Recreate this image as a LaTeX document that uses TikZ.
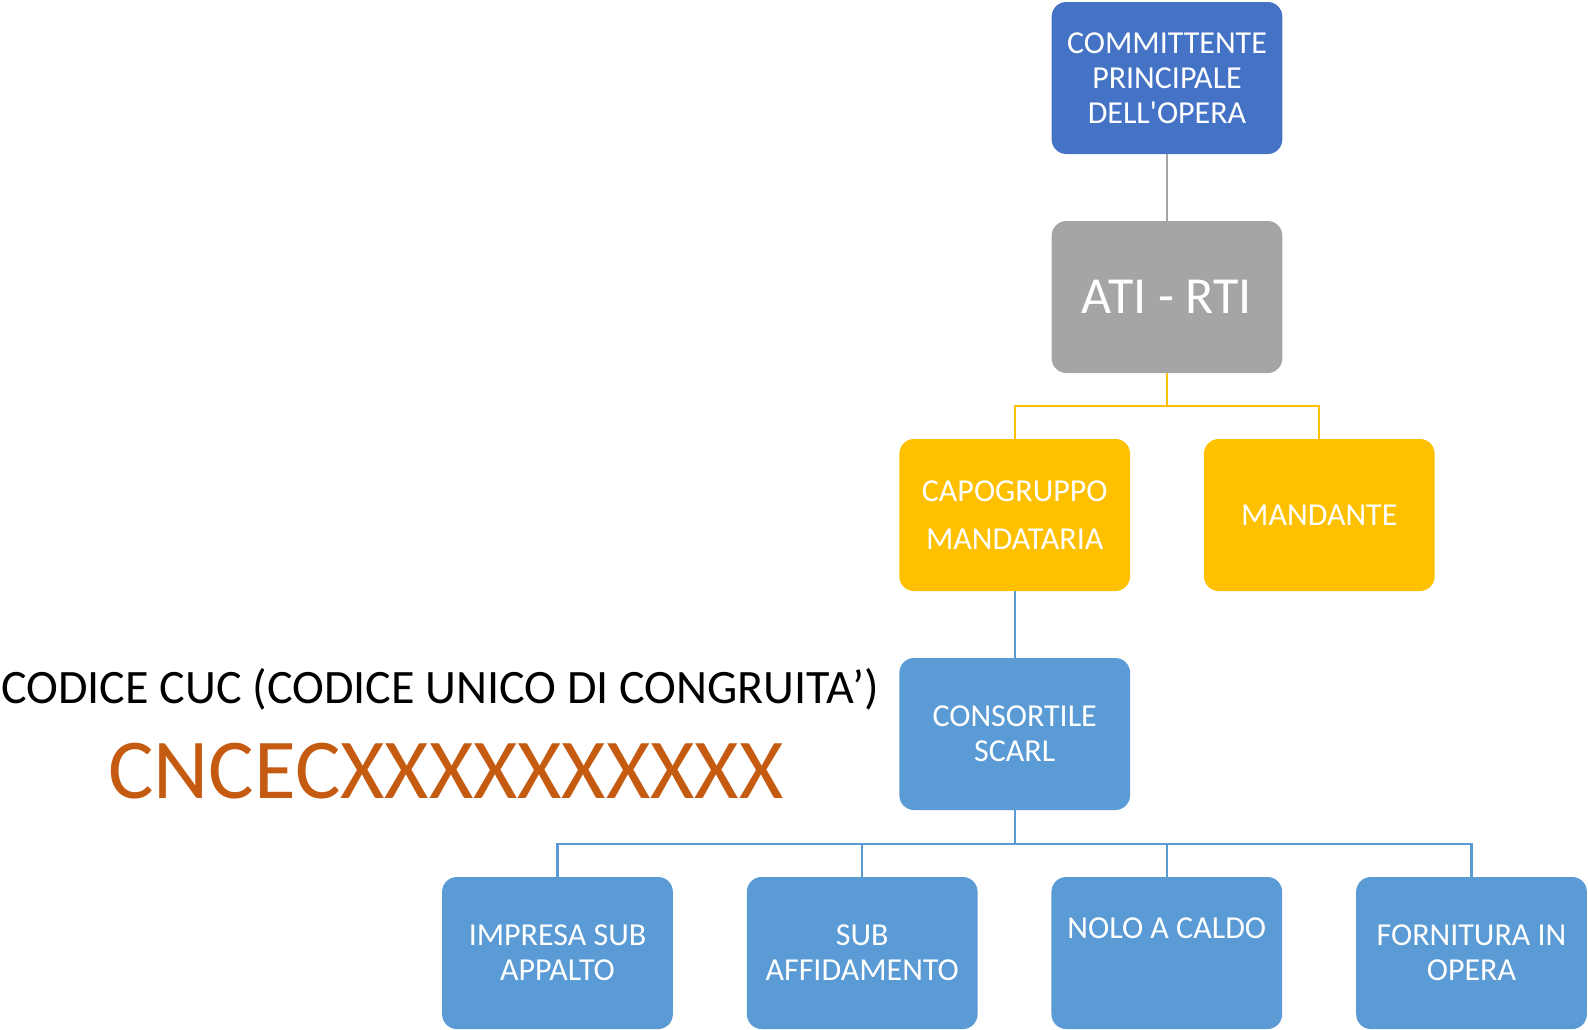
\documentclass[tikz,border=0pt]{standalone}
\usepackage{fontspec}
\setmainfont{Carlito}
\usepackage{xcolor}
\definecolor{darkblue}{RGB}{68,114,196}
\definecolor{lightblue}{RGB}{91,155,213}
\definecolor{amber}{RGB}{255,192,0}
\definecolor{midgray}{RGB}{165,165,165}
\definecolor{rust}{RGB}{197,90,17}
\tikzset{
  org box/.style={
    rectangle, rounded corners=11pt, draw=none, text=white,
    minimum width=173pt, minimum height=114pt, inner sep=2pt,
    align=center, font=\fontsize{24}{26.25}\selectfont
  }}
\tikzset{
  link/.style={line width=1.7pt}}

\begin{document}
\begin{tikzpicture}[x=0.75pt,y=-0.75pt]
    \useasboundingbox (0,0) rectangle (1588,1029);
    % top of the tree
    \node[org box,fill=darkblue] (comm) at (1167,78) {COMMITTENTE\\PRINCIPALE\\DELL\textquotesingle OPERA};
    \node[org box,fill=midgray,font=\fontsize{39}{43}\selectfont] (ati) at (1167,297) {ATI - RTI};
    \node[org box,fill=amber] (capo) at (1014.7,515) {CAPOGRUPPO\\[10pt]MANDATARIA};
    \node[org box,fill=amber] (mand) at (1319.3,515) {MANDANTE};
    \node[org box,fill=lightblue] (cons) at (1014.7,734) {CONSORTILE\\SCARL};
    % bottom row
    \node[org box,fill=lightblue] (imp) at (557.5,953) {IMPRESA SUB\\APPALTO};
    \node[org box,fill=lightblue] (sub) at (862.2,953) {SUB\\AFFIDAMENTO};
    \node[org box,fill=lightblue] (nolo) at (1166.8,953) {NOLO A CALDO\\[11.25pt]\mbox{}};
    \node[org box,fill=lightblue] (forn) at (1471.5,953) {FORNITURA IN\\OPERA};
    % code
    \node[anchor=base west,inner sep=0pt,font=\fontsize{36}{40}\selectfont] (cuc) at (1,703) {CODICE CUC (CODICE UNICO DI CONGRUITA’)};
    \node[anchor=base west,inner sep=0pt,text=rust,font=\fontsize{64}{70}\selectfont] (code) at (108,798) {CNCECXXXXXXXXXX};
    % connectors
    \draw[link,midgray] (comm) -- (ati);
    \draw[link,amber] (ati.south) -- ++(0,33) -| (capo.north);
    \draw[link,amber] (ati.south) -- ++(0,33) -| (mand.north);
    \draw[link,lightblue] (capo) -- (cons);
    \foreach \n in {imp,sub,nolo,forn}
        \draw[link,lightblue] (cons.south) -- ++(0,33.5) -| (\n.north);
\end{tikzpicture}
\end{document}
